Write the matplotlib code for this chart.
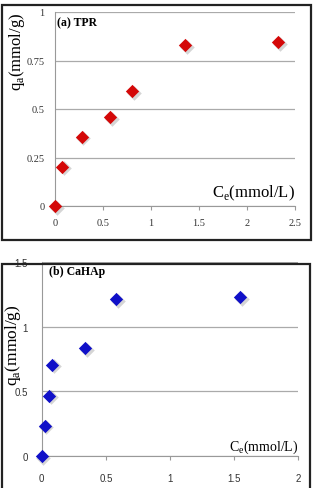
import numpy as np
import matplotlib.pyplot as plt
from matplotlib.patches import Rectangle

# (a) TPR
ce_tpr = [0.0, 0.076, 0.278, 0.573, 0.806, 1.354, 2.326]
qa_tpr = [0.0, 0.203, 0.357, 0.460, 0.591, 0.830, 0.844]
# (b) CaHAp
ce_cahap = [0.0, 0.023, 0.057, 0.083, 0.340, 0.579, 1.546]
qa_cahap = [0.0, 0.235, 0.467, 0.707, 0.834, 1.214, 1.232]

xticks_a = [0, 0.5, 1, 1.5, 2, 2.5]
xlabels_a = ['0', '0.5', '1', '1.5', '2', '2.5']
yticks_a = [0, 0.25, 0.5, 0.75, 1]
ylabels_a = ['0', '0.25', '0.5', '0.75', '1']
xticks_b = [0, 0.5, 1, 1.5, 2]
xlabels_b = ['0', '0.5', '1', '1.5', '2']
yticks_b = [0, 0.5, 1, 1.5]
ylabels_b = ['0', '0.5', '1', '1.5']

SERIF = 'Liberation Serif'
SANS = 'Liberation Sans'

fig = plt.figure(figsize=(3.14, 4.89), dpi=100)

# black frames round each panel
fig.add_artist(Rectangle((2/314, (489-241)/489), 309/314, 235/489, transform=fig.transFigure,
                         fill=False, ec='#222222', lw=1.6))
fig.add_artist(Rectangle((2/314, -0.02), 308/314, (489-265)/489 + 0.02, transform=fig.transFigure,
                         fill=False, ec='#222222', lw=1.6))


def panel(ax, x, y, color, xt, xl, yt, yl, xmax, ymax, title, tickfont, tsize,
          xpad, ypad, title_xy, ce_y, ce_size):
    ax.set_xlim(0, xmax)
    ax.set_ylim(0, ymax)
    ax.set_xticks(xt)
    ax.set_xticklabels(xl, family=tickfont, fontsize=tsize, color='#333333')
    ax.set_yticks(yt)
    ax.set_yticklabels(yl, family=tickfont, fontsize=tsize, color='#333333')
    for s in ['top', 'right']:
        ax.spines[s].set_visible(False)
    ax.spines['left'].set_color('#999999')
    ax.spines['bottom'].set_color('#999999')
    ax.tick_params(axis='y', length=0, pad=ypad)
    ax.tick_params(axis='x', length=3, direction='out', color='#999999', pad=xpad)
    ax.grid(axis='y', color='#aaaaaa', lw=0.9)
    ax.set_axisbelow(True)
    # soft shadow then marker
    xs = np.array(x)
    ys = np.array(y)
    ax.scatter(xs + xmax*0.007, ys - ymax*0.009, marker='D', s=55, color='#888888',
               alpha=0.35, lw=0, clip_on=False, zorder=3)
    ax.scatter(xs, ys, marker='D', s=46, color=color, lw=0, clip_on=False, zorder=4)
    ax.text(title_xy[0], title_xy[1], title, transform=ax.transAxes, family=SERIF,
            fontweight='bold', fontsize=8.5, va='center', ha='left')
    ax.text(1.0, ce_y, r'C$_\mathregular{e}$(mmol/L)', transform=ax.transAxes, family=SERIF,
            fontsize=ce_size, ha='right', va='center')


ax1 = fig.add_axes([55/314, 282/489, 240/314, 194/489])
panel(ax1, ce_tpr, qa_tpr, '#d40808', xticks_a, xlabels_a, yticks_a, ylabels_a,
      2.5, 1.0, '(a) TPR', SERIF, 7.5, 6, 7.5, (0.008, 0.948), 0.07, 12)
fig.text(17/314, (489-52)/489, r'q$_\mathregular{a}$(mmol/g)', rotation=90, family=SERIF,
         fontsize=12, ha='center', va='center')

ax2 = fig.add_axes([41.7/314, 32/489, 256.6/314, 193.7/489])
panel(ax2, ce_cahap, qa_cahap, '#1010c8', xticks_b, xlabels_b, yticks_b, ylabels_b,
      2.0, 1.5, '(b) CaHAp', SANS, 7, 9, 10, (0.028, 0.955), 0.05, 10)
fig.text(13/314, (489-345)/489, r'q$_\mathregular{a}$(mmol/g)', rotation=90, family=SERIF,
         fontsize=12.5, ha='center', va='center')

fig.savefig('out.png', dpi=100)
